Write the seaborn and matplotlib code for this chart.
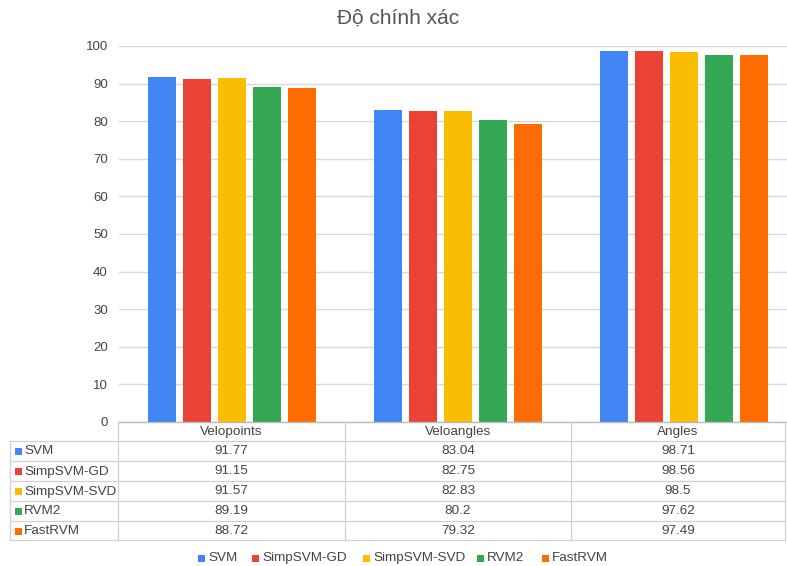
import matplotlib
matplotlib.use("Agg")
import matplotlib.pyplot as plt
import seaborn as sns
import pandas as pd
from matplotlib.lines import Line2D
from matplotlib.patches import Rectangle

categories = ["Velopoints", "Veloangles", "Angles"]
models = ["SVM", "SimpSVM-GD", "SimpSVM-SVD", "RVM2", "FastRVM"]
svm = [91.77, 83.04, 98.71]
simpsvm_gd = [91.15, 82.75, 98.56]
simpsvm_svd = [91.57, 82.83, 98.5]
rvm2 = [89.19, 80.2, 97.62]
fastrvm = [88.72, 79.32, 97.49]
y_ticks = [0, 10, 20, 30, 40, 50, 60, 70, 80, 90, 100]
title = "Độ chính xác"

series = [svm, simpsvm_gd, simpsvm_svd, rvm2, fastrvm]
colors = ["#4285F4", "#EA4335", "#FBBC04", "#34A853", "#FF6D01"]
text_color = "#444444"

rows = []
for m, vals in zip(models, series):
    for c, v in zip(categories, vals):
        rows.append({"category": c, "model": m, "value": v})
df = pd.DataFrame(rows)

sns.set_theme(style="white")
plt.rcParams["font.family"] = ["Liberation Sans", "DejaVu Sans"]

W, H = 787, 566
fig = plt.figure(figsize=(W / 100, H / 100), dpi=100)
fig.patch.set_facecolor("white")

# plot area in pixels; each category slot is 226 px wide (last one runs past the edge)
x0, ytop, ybot = 119, 46, 422
x1 = x0 + 3 * 226
ax = fig.add_axes([x0 / W, 1 - ybot / H, (x1 - x0) / W, (ybot - ytop) / H])
sns.barplot(data=df, x="category", y="value", hue="model", order=categories,
            hue_order=models, palette=colors, width=0.77, gap=0.2,
            saturation=1, ax=ax, legend=False, edgecolor="none")
ax.set_ylim(0, 100)
ax.set_xlim(-0.5, 2.5)
ax.set_yticks(y_ticks)
ax.set_yticklabels([str(t) for t in y_ticks], fontsize=9.5, color=text_color)
ax.set_xticks([])
ax.set_xlabel("")
ax.set_ylabel("")
ax.tick_params(axis="y", length=0, pad=8)
for s in ax.spines.values():
    s.set_visible(False)
ax.yaxis.grid(True, color="#d9d9d9", linewidth=1)
ax.set_axisbelow(True)

# Data table drawn in pixel coordinates under the plot
ov = fig.add_axes([0, 0, 1, 1], facecolor="none")
ov.set_xlim(0, W)
ov.set_ylim(H, 0)
ov.axis("off")

line_c = "#d0d0d0"
col_edges = [118, 345, 571, 785]
row_edges = [422, 441, 461, 481, 501, 521, 540]
lw = 0.9
ov.add_line(Line2D([118, 787], [422, 422], color="#bbbbbb", lw=1))
for y in row_edges[1:]:
    ov.add_line(Line2D([10, 785], [y, y], color=line_c, lw=lw))
for x in col_edges:
    ov.add_line(Line2D([x, x], [422, 540], color=line_c, lw=lw))
ov.add_line(Line2D([10, 10], [441, 540], color=line_c, lw=lw))

fs = 9.7
for j, c in enumerate(categories):
    cx = (col_edges[j] + col_edges[j + 1]) / 2
    ov.text(cx, (row_edges[0] + row_edges[1]) / 2 + 0.5, c, ha="center",
            va="center", fontsize=fs, color=text_color)
for i, (m, vals, col) in enumerate(zip(models, series, colors)):
    cy = (row_edges[i + 1] + row_edges[i + 2]) / 2 + 0.5
    ov.add_patch(Rectangle((15, cy - 3.5), 7, 7, color=col, lw=0))
    ov.text(24, cy, m, ha="left", va="center", fontsize=fs, color=text_color)
    for j, v in enumerate(vals):
        cx = (col_edges[j] + col_edges[j + 1]) / 2
        ov.text(cx, cy, f"{v:g}", ha="center", va="center", fontsize=fs,
                color=text_color)

# Legend along the bottom
leg_y = 558
leg_x = [198, 252, 363, 477, 542]
for m, col, lx in zip(models, colors, leg_x):
    ov.add_patch(Rectangle((lx, leg_y - 3.5), 7, 7, color=col, lw=0))
    ov.text(lx + 10, leg_y, m, ha="left", va="center", fontsize=fs,
            color=text_color)

fig.text(398 / W, 1 - 18 / H, title, ha="center", va="center", fontsize=15,
         color="#555555")

fig.savefig("out.png", dpi=100, facecolor="white")
